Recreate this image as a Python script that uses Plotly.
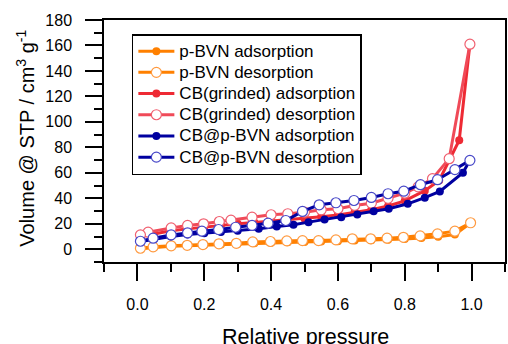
import plotly.graph_objects as go

# ---- data ----
pbvn_ads_x = [0.01, 0.05, 0.10, 0.15, 0.20, 0.25, 0.30, 0.35, 0.40, 0.45, 0.50, 0.55, 0.60, 0.65, 0.70, 0.75, 0.80, 0.85, 0.90, 0.95, 0.997]
pbvn_ads_y = [0.5, 1.5, 2.3, 2.8, 3.3, 3.8, 4.2, 4.8, 5.2, 5.5, 5.8, 6.0, 6.3, 6.8, 7.0, 7.5, 8.0, 8.8, 9.8, 11.6, 20.5]
pbvn_des_x = [0.997, 0.95, 0.898, 0.846, 0.796, 0.747, 0.698, 0.643, 0.594, 0.542, 0.494, 0.447, 0.398, 0.345, 0.296, 0.244, 0.196, 0.149, 0.101, 0.047, 0.009]
pbvn_des_y = [20.8, 14.2, 12.1, 10.5, 9.4, 8.7, 8.2, 8.2, 7.4, 6.8, 6.8, 6.6, 6.1, 5.8, 4.7, 4.3, 3.7, 3.1, 2.7, 1.9, 0.8]

cb_ads_x = [0.01, 0.05, 0.10, 0.15, 0.20, 0.25, 0.30, 0.35, 0.40, 0.45, 0.50, 0.55, 0.60, 0.65, 0.70, 0.75, 0.80, 0.86, 0.903, 0.963, 0.995]
cb_ads_y = [10.0, 12.0, 14.5, 16.0, 17.5, 19.0, 20.0, 21.0, 22.0, 23.0, 24.0, 25.5, 27.0, 29.0, 31.0, 34.0, 38.0, 46.0, 54.0, 85.6, 161.0]
cb_des_x = [0.995, 0.933, 0.883, 0.84, 0.80, 0.75, 0.70, 0.65, 0.60, 0.55, 0.50, 0.45, 0.40, 0.343, 0.28, 0.245, 0.198, 0.15, 0.101, 0.032, 0.009]
cb_des_y = [161.0, 71.1, 55.4, 49.0, 44.0, 40.0, 36.2, 34.4, 31.8, 31.0, 29.1, 27.9, 27.1, 25.2, 22.8, 21.8, 20.0, 18.7, 16.8, 13.4, 11.3]

cbp_ads_x = [0.01, 0.05, 0.10, 0.15, 0.20, 0.25, 0.30, 0.363, 0.417, 0.467, 0.512, 0.56, 0.61, 0.658, 0.707, 0.752, 0.809, 0.86, 0.905, 0.974, 0.995]
cbp_ads_y = [6.0, 8.0, 10.0, 11.5, 12.5, 13.5, 14.5, 16.1, 17.9, 19.2, 21.3, 23.4, 25.2, 27.3, 29.9, 31.8, 35.7, 40.5, 45.4, 60.1, 69.8]
cbp_des_x = [0.995, 0.95, 0.898, 0.847, 0.797, 0.75, 0.70, 0.648, 0.594, 0.544, 0.494, 0.444, 0.391, 0.343, 0.294, 0.243, 0.193, 0.15, 0.101, 0.047, 0.009]
cbp_des_y = [69.8, 62.5, 54.6, 50.7, 45.6, 43.6, 40.7, 38.3, 36.5, 34.9, 29.7, 22.6, 20.5, 18.7, 17.3, 15.5, 14.2, 12.9, 11.3, 8.7, 6.3]

x_ticks = [0.0, 0.2, 0.4, 0.6, 0.8, 1.0]
y_ticks = [0, 20, 40, 60, 80, 100, 120, 140, 160, 180]

FONT = "Liberation Sans, Arial, sans-serif"
ORANGE = "#ff8000"
RED = "#ee2a34"
RED_L = "#f04a58"
BLUE = "#0000a0"

fig = go.Figure()

def label(name):
    return f'<span style="font-size:17px">{name}</span>'

def ads(x, y, name, color):
    fig.add_trace(go.Scatter(
        x=x, y=y, name=label(name), mode="lines+markers",
        line=dict(color=color, width=3),
        marker=dict(symbol="circle", size=8, color=color, line=dict(width=0)),
    ))

def des(x, y, name, color, mcolor):
    fig.add_trace(go.Scatter(
        x=x, y=y, name=label(name), mode="lines+markers",
        line=dict(color=color, width=3),
        marker=dict(symbol="circle", size=10, color="white", line=dict(width=1.2, color=mcolor)),
    ))

ads(pbvn_ads_x, pbvn_ads_y, "p-BVN adsorption", ORANGE)
des(pbvn_des_x, pbvn_des_y, "p-BVN desorption", ORANGE, "#ff9a40")
ads(cb_ads_x, cb_ads_y, "CB(grinded) adsorption", RED)
des(cb_des_x, cb_des_y, "CB(grinded) desorption", RED_L, "#f06070")
ads(cbp_ads_x, cbp_ads_y, "CB@p-BVN adsorption", BLUE)
des(cbp_des_x, cbp_des_y, "CB@p-BVN desorption", BLUE, "#4848c8")

axis_common = dict(
    showline=True, linecolor="black", linewidth=1.5, mirror=True,
    ticks="outside", ticklen=17, tickwidth=1.5, tickcolor="black",
    showgrid=False, zeroline=False,
    tickfont=dict(family=FONT, size=16, color="black"),
)

fig.update_xaxes(
    range=[-0.1, 1.1], tickvals=x_ticks, ticktext=[f"{v:.1f}" for v in x_ticks],
    minor=dict(ticks="outside", ticklen=8, tickwidth=1.5, tickcolor="black", dtick=0.1, tick0=-0.1, showgrid=False),
    ticklabelstandoff=10,
    **axis_common,
)
fig.update_yaxes(
    range=[-10, 180], tickvals=y_ticks, ticktext=[str(v) for v in y_ticks],
    minor=dict(ticks="outside", ticklen=8, tickwidth=1.5, tickcolor="black", dtick=10, tick0=-10, showgrid=False),
    ticklabelstandoff=10,
    **axis_common,
)

fig.add_annotation(
    text="Relative pressure", xref="paper", yref="paper", x=0.503, y=-0.252,
    xanchor="center", yanchor="top", showarrow=False,
    font=dict(family=FONT, size=21.5, color="black"),
)
fig.add_annotation(
    text="Volume @ STP / cm<sup>3</sup> g<sup>-1</sup>", xref="paper", yref="paper",
    x=-0.198, y=0.512, xanchor="center", yanchor="middle", textangle=-90, showarrow=False,
    font=dict(family=FONT, size=20, color="black"),
)

fig.update_layout(
    width=508, height=344,
    margin=dict(l=104, r=1, t=20, b=82),
    paper_bgcolor="white", plot_bgcolor="white",
    showlegend=True,
    legend=dict(
        x=0.0695, y=0.942, xanchor="left", yanchor="top",
        bgcolor="white", bordercolor="black", borderwidth=1.5,
        font=dict(family=FONT, size=14, color="black"),
        itemwidth=36, tracegroupgap=0,
    ),
    font=dict(family=FONT, color="black"),
)

fig.write_html("out.html")
